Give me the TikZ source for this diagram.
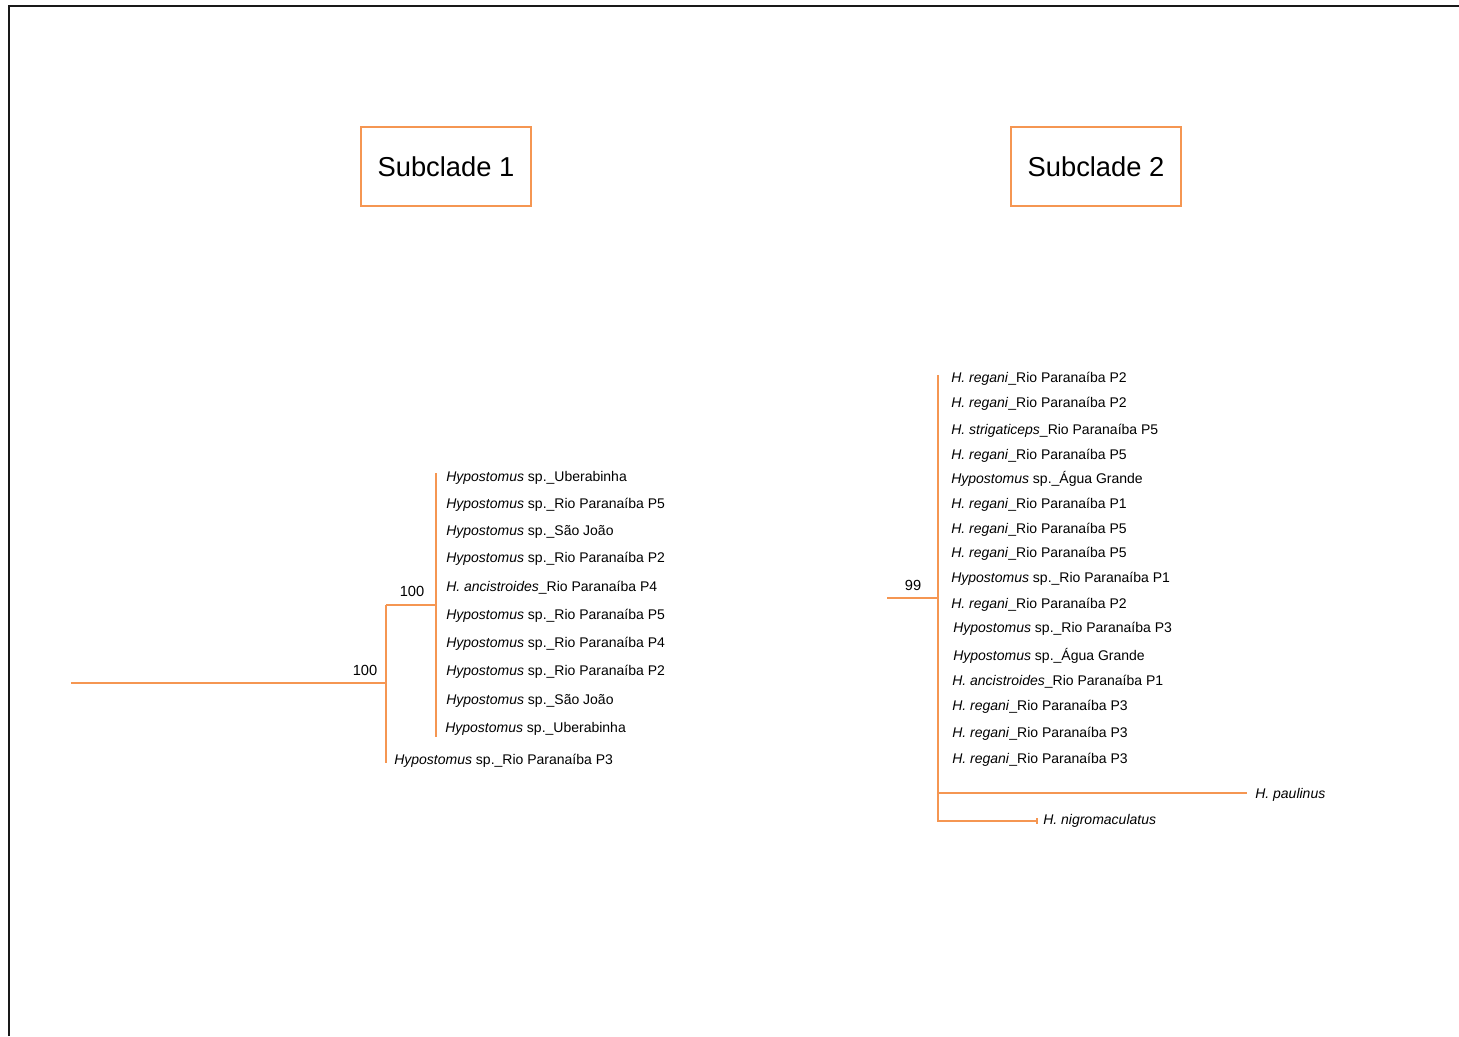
\documentclass[tikz,border=0pt]{standalone}
\usepackage{fontspec}
\setmainfont{Liberation Sans}
\usepackage{tikz}
\usetikzlibrary{positioning,arrows.meta}
\definecolor{branch}{RGB}{245,150,82}

\begin{document}
\begin{tikzpicture}[x=0.75pt,y=-0.75pt]
\tikzstyle{leaf}=[anchor=west, inner sep=0pt, yshift=-1.5pt, font=\fontsize{10.5}{12}\selectfont]
\tikzstyle{support}=[inner sep=0pt, font=\fontsize{11}{13}\selectfont]
\tikzstyle{box}=[rectangle, draw=branch, line width=1.1pt, minimum width=127.5pt, minimum height=59pt, font=\fontsize{20.5}{24}\selectfont]
\tikzstyle{connect}=[draw=branch, line width=1.5pt]
  \useasboundingbox (0,0) rectangle (1459,1036);
  \draw[line width=1.6pt, black!90] (9,1036) -- (9,6) -- (1459,6);
  % headings
  \node[box] (S1) at (446,166.5) {Subclade 1};
  \node[box] (S2) at (1096,166.5) {Subclade 2};
  % subclade 1 tree
  \coordinate (r1) at (71,683);
  \coordinate (n1) at (386,683);
  \coordinate (n1t) at (386,605);
  \coordinate (n1b) at (386,763);
  \coordinate (n2) at (436,605);
  \coordinate (n2t) at (436,473);
  \coordinate (n2b) at (436,737);
  \path
        (r1) edge [connect] (n1)
        (n1t) edge [connect] (n1b)
        (n1t) edge [connect] (n2)
        (n2t) edge [connect] (n2b);
  \node[support] (b1) at (365,670) {100};
  \node[support] (b2) at (412,591) {100};
  \node[leaf] (a1) at (446,476) {\textit{Hypostomus} sp.\_Uberabinha};
  \node[leaf] (a2) at (446,503) {\textit{Hypostomus} sp.\_Rio Paranaíba P5};
  \node[leaf] (a3) at (446,530) {\textit{Hypostomus} sp.\_São João};
  \node[leaf] (a4) at (446,557) {\textit{Hypostomus} sp.\_Rio Paranaíba P2};
  \node[leaf] (a5) at (446,586) {\textit{H. ancistroides}\_Rio Paranaíba P4};
  \node[leaf] (a6) at (446,614) {\textit{Hypostomus} sp.\_Rio Paranaíba P5};
  \node[leaf] (a7) at (446,642) {\textit{Hypostomus} sp.\_Rio Paranaíba P4};
  \node[leaf] (a8) at (446,670) {\textit{Hypostomus} sp.\_Rio Paranaíba P2};
  \node[leaf] (a9) at (446,699) {\textit{Hypostomus} sp.\_São João};
  \node[leaf] (a10) at (445,727) {\textit{Hypostomus} sp.\_Uberabinha};
  \node[leaf] (a11) at (394,759) {\textit{Hypostomus} sp.\_Rio Paranaíba P3};
  % subclade 2 tree
  \coordinate (r2) at (887,598);
  \coordinate (n3) at (938,598);
  \coordinate (n3t) at (938,375);
  \coordinate (n3b) at (938,822);
  \coordinate (p1) at (938,793);
  \coordinate (p2) at (1247,793);
  \coordinate (g1) at (938,821);
  \coordinate (g2) at (1038,821);
  \path
        (r2) edge [connect] (n3)
        (n3t) edge [connect] (n3b)
        (p1) edge [connect] (p2)
        (g1) edge [connect, -{Bar[width=4.5pt]}] (g2);
  \node[support] (b3) at (913,585) {99};
  \node[leaf] (c1) at (951,377) {\textit{H. regani}\_Rio Paranaíba P2};
  \node[leaf] (c2) at (951,402) {\textit{H. regani}\_Rio Paranaíba P2};
  \node[leaf] (c3) at (951,429) {\textit{H. strigaticeps}\_Rio Paranaíba P5};
  \node[leaf] (c4) at (951,454) {\textit{H. regani}\_Rio Paranaíba P5};
  \node[leaf] (c5) at (951,477) {\textit{Hypostomus} sp.\_Água Grande};
  \node[leaf] (c6) at (951,503) {\textit{H. regani}\_Rio Paranaíba P1};
  \node[leaf] (c7) at (951,528) {\textit{H. regani}\_Rio Paranaíba P5};
  \node[leaf] (c8) at (951,552) {\textit{H. regani}\_Rio Paranaíba P5};
  \node[leaf] (c9) at (951,577) {\textit{Hypostomus} sp.\_Rio Paranaíba P1};
  \node[leaf] (c10) at (951,603) {\textit{H. regani}\_Rio Paranaíba P2};
  \node[leaf] (c11) at (953,627) {\textit{Hypostomus} sp.\_Rio Paranaíba P3};
  \node[leaf] (c12) at (953,654) {\textit{Hypostomus} sp.\_Água Grande};
  \node[leaf] (c13) at (952,680) {\textit{H. ancistroides}\_Rio Paranaíba P1};
  \node[leaf] (c14) at (952,705) {\textit{H. regani}\_Rio Paranaíba P3};
  \node[leaf] (c15) at (952,732) {\textit{H. regani}\_Rio Paranaíba P3};
  \node[leaf] (c16) at (952,758) {\textit{H. regani}\_Rio Paranaíba P3};
  \node[leaf] (d1) at (1255,793) {\textit{H. paulinus}};
  \node[leaf] (d2) at (1043,819) {\textit{H. nigromaculatus}};
\end{tikzpicture}
\end{document}
